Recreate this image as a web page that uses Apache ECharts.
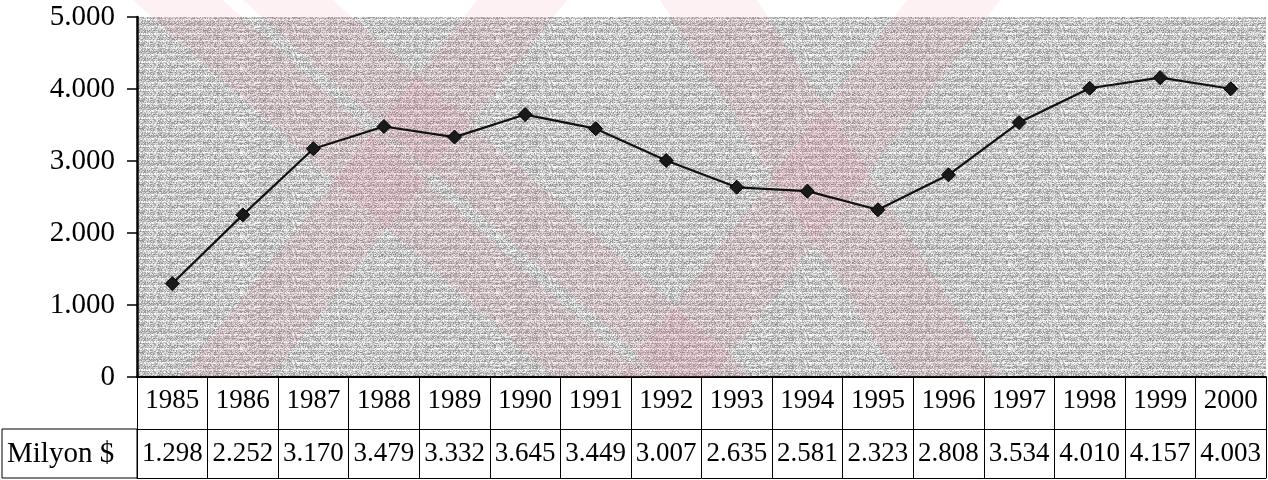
<!DOCTYPE html>
<html>
<head>
<meta charset="utf-8">
<script src="https://cdn.jsdelivr.net/npm/echarts@6/dist/echarts.min.js"></script>
<style>
  html, body { margin: 0; padding: 0; background: #ffffff; }
  #chart { width: 1268px; height: 480px; }
</style>
</head>
<body>
<div id="chart"></div>
<script>
// ---- data ----
const years = ['1985','1986','1987','1988','1989','1990','1991','1992','1993','1994','1995','1996','1997','1998','1999','2000'];
const values = [1298, 2252, 3170, 3479, 3332, 3645, 3449, 3007, 2635, 2581, 2323, 2808, 3534, 4010, 4157, 4003];
const rowLabel = 'Milyon $';
const yMin = 0, yMax = 5000, yStep = 1000;

// ---- helpers ----
function fmt(v) { return String(v).replace(/\B(?=(\d{3})+(?!\d))/g, '.'); }
const valueLabels = values.map(fmt);

// scanned-paper texture for the plot background (decoration only, deterministic hash)
function hash(x, y) {
  let h = (x * 374761393 + y * 668265263) | 0;
  h = Math.imul(h ^ (h >>> 13), 1274126177);
  h = h ^ (h >>> 16);
  return (h >>> 0) / 4294967295;
}
function makeTexture() {
  const w = 256, h = 28;
  const c = document.createElement('canvas');
  c.width = w; c.height = h;
  const ctx = c.getContext('2d');
  const img = ctx.createImageData(w, h);
  const base = [190, 204, 180, 196, 186, 232, 218];
  for (let y = 0; y < h; y++) {
    for (let x = 0; x < w; x++) {
      const r = hash(x, y);
      let v = base[y % 7] + (r - 0.5) * 100;
      v = Math.max(50, Math.min(255, v));
      const i = (y * w + x) * 4;
      img.data[i] = v; img.data[i + 1] = v; img.data[i + 2] = v; img.data[i + 3] = 255;
    }
  }
  ctx.putImageData(img, 0, 0);
  return c;
}

const FONT = '"Liberation Serif", "Times New Roman", serif';
const pink = 'rgba(235,120,145,0.10)';

function band(x0a, x0b, x1a, x1b) {
  return {
    type: 'polygon', z: 1, silent: true,
    shape: { points: [[x0a, 0], [x0b, 0], [x1b, 377], [x1a, 377]] },
    style: { fill: pink }
  };
}

const chart = echarts.init(document.getElementById('chart'), null, { renderer: 'canvas' });

chart.setOption({
  animation: false,
  backgroundColor: '#ffffff',
  grid: {
    left: 137, right: 2, top: 17, bottom: 103,
    show: true,
    backgroundColor: { image: makeTexture(), repeat: 'repeat' },
    borderWidth: 0
  },
  xAxis: [
    {
      type: 'category',
      data: years,
      position: 'bottom',
      boundaryGap: true,
      axisLine: { show: true, lineStyle: { color: '#000', width: 2 } },
      axisTick: { show: true, inside: false, length: 101, alignWithLabel: false, lineStyle: { color: '#000', width: 1 } },
      axisLabel: { show: true, interval: 0, margin: 24, verticalAlign: 'middle', color: '#000', fontFamily: FONT, fontSize: 27 },
      splitLine: { show: false }
    },
    {
      type: 'category',
      data: valueLabels,
      position: 'bottom',
      offset: 52,
      boundaryGap: true,
      axisLine: { show: true, lineStyle: { color: '#000', width: 1 } },
      axisTick: { show: false },
      axisLabel: { show: true, interval: 0, margin: 25, verticalAlign: 'middle', color: '#000', fontFamily: FONT, fontSize: 27 },
      splitLine: { show: false }
    },
    {
      type: 'category',
      data: years,
      position: 'bottom',
      offset: 101,
      boundaryGap: true,
      axisLine: { show: true, lineStyle: { color: '#000', width: 1 } },
      axisTick: { show: false },
      axisLabel: { show: false },
      splitLine: { show: false }
    }
  ],
  yAxis: {
    type: 'value',
    min: yMin, max: yMax, interval: yStep,
    axisLine: { show: true, lineStyle: { color: '#000', width: 2.5 } },
    axisTick: { show: true, inside: false, length: 10, lineStyle: { color: '#000', width: 1.5 } },
    axisLabel: { show: true, margin: 22, color: '#000', fontFamily: FONT, fontSize: 29, formatter: fmt },
    splitLine: { show: false }
  },
  graphic: [
    band(133, 223, 553, 643),
    band(243, 333, 663, 753),
    band(477, 567, 180, 270),
    band(660, 757, 900, 1000),
    band(907, 1000, 620, 713),
    {
      type: 'rect', z: 5, silent: true,
      shape: { x: 2, y: 429, width: 135, height: 49 },
      style: { fill: 'none', stroke: '#000', lineWidth: 1 }
    },
    {
      type: 'text', z: 5, silent: true,
      x: 7, y: 454,
      style: { text: rowLabel, fill: '#000', font: '29px ' + FONT, verticalAlign: 'middle' }
    }
  ],
  series: [
    {
      type: 'line',
      xAxisIndex: 0,
      data: values,
      symbol: 'diamond',
      symbolSize: 14,
      z: 10,
      lineStyle: { color: '#111', width: 2.2 },
      itemStyle: { color: '#1a1a1a', borderColor: '#000', borderWidth: 1 },
      label: { show: false }
    }
  ]
});
</script>
</body>
</html>
